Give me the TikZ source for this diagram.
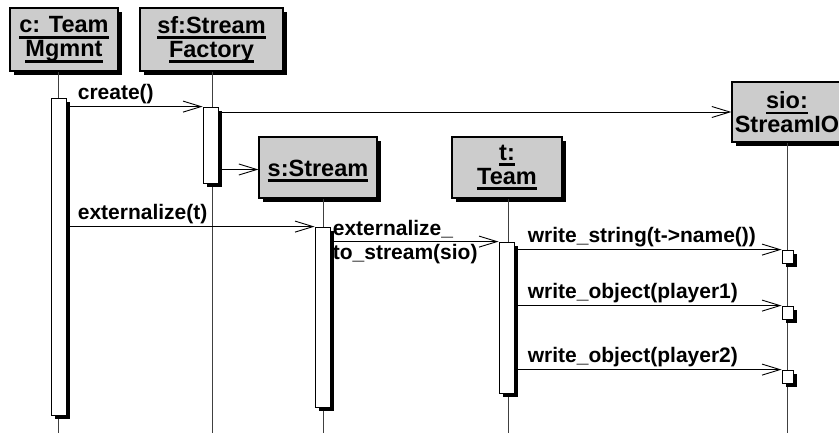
\documentclass[tikz,border=0pt]{standalone}
\usepackage{fontspec}
\setmainfont{Liberation Sans}
\usetikzlibrary{arrows.meta,shadows}
\newcommand{\uname}[1]{\setbox0=\hbox{#1}\rlap{\rule[-6pt]{\wd0}{2.8pt}}\box0}
\tikzset{
  obj/.style={draw, line width=1.2pt, fill=black!20, align=center, inner sep=0pt,
    font=\fontsize{23.5}{24}\selectfont\bfseries,
    execute at begin node={\rule{0pt}{23pt}},
    drop shadow={shadow xshift=4pt, shadow yshift=-4pt, fill=black, opacity=1}},
  act/.style={draw, line width=0.8pt, fill=white, minimum width=15, inner sep=0pt,
    drop shadow={shadow xshift=3.5pt, shadow yshift=-3.5pt, fill=black, opacity=1}},
  life/.style={draw=black!75, line width=0.9pt},
  msg/.style={draw, line width=0.9pt, -{Straight Barb[length=18pt,width=11pt]}},
  lbl/.style={font=\fontsize{21}{24}\selectfont\bfseries, inner sep=2pt}
}
\begin{document}
\begin{tikzpicture}[x=1pt,y=-1pt]
    \useasboundingbox (0,0) rectangle (839,434);
    % objects
    \node[obj, minimum width=108, minimum height=63] (O0) at (64,39.5) {\uname{c: Team}\\\uname{Mgmnt}};
    \node[obj, minimum width=143, minimum height=63] (O1) at (211.5,39.5) {\uname{sf:Stream}\\\uname{Factory}};
    \node[obj, minimum width=118, minimum height=61] (O2) at (318,167.5) {\uname{s:Stream}};
    \node[obj, minimum width=110, minimum height=61] (O3) at (507,167.5) {\uname{t:}\\\uname{Team}};
    \node[obj, minimum width=110, minimum height=60] (O4) at (787,112) {\uname{sio:}\\StreamIO};
    % lifelines
    \coordinate (E0) at (58,433);
    \coordinate (E1) at (212,433);
    \coordinate (E2) at (323,433);
    \coordinate (E3) at (508,433);
    \coordinate (E4) at (787,433);
    \draw[life] (O0.south -| E0) -- (E0);
    \draw[life] (O1.south -| E1) -- (E1);
    \draw[life] (O2.south -| E2) -- (E2);
    \draw[life] (O3.south -| E3) -- (E3);
    \draw[life] (O4.south -| E4) -- (E4);
    % activations
    \node[act, minimum height=317] (B0) at (58.5,256.5) {};
    \node[act, minimum height=76] (B1) at (210.5,145) {};
    \node[act, minimum height=180] (B2) at (322.5,317) {};
    \node[act, minimum height=151] (B3) at (506.5,317.5) {};
    \node[act, minimum width=11, minimum height=13] (Q0) at (787.5,256.5) {};
    \node[act, minimum width=11, minimum height=13] (Q1) at (787.5,312.5) {};
    \node[act, minimum width=11, minimum height=13] (Q2) at (787.5,376.5) {};
    % messages
    \path (B1.north west -| B0.east) edge [msg] node [lbl, pos=0, above right, xshift=9pt] {create()} (B1.north west);
    \path (O4.west -| B1.east) edge [msg] (O4.west);
    \path ([yshift=-2pt]O2.west -| B1.east) edge [msg] ([yshift=-2pt]O2.west);
    \path (B2.north west -| B0.east) edge [msg] node [lbl, pos=0, above right, xshift=9pt] {externalize(t)} (B2.north west);
    \path (B3.north west -| B2.east) edge [msg] node [lbl, pos=0, right, align=left] {externalize\_\\to\_stream(sio)} (B3.north west);
    \path (Q0.north west -| B3.east) edge [msg] node [lbl, pos=0, above right, xshift=11pt] {write\_string(t->name())} (Q0.north west);
    \path (Q1.north west -| B3.east) edge [msg] node [lbl, pos=0, above right, xshift=11pt] {write\_object(player1)} (Q1.north west);
    \path (Q2.north west -| B3.east) edge [msg] node [lbl, pos=0, above right, xshift=11pt] {write\_object(player2)} (Q2.north west);
\end{tikzpicture}
\end{document}
